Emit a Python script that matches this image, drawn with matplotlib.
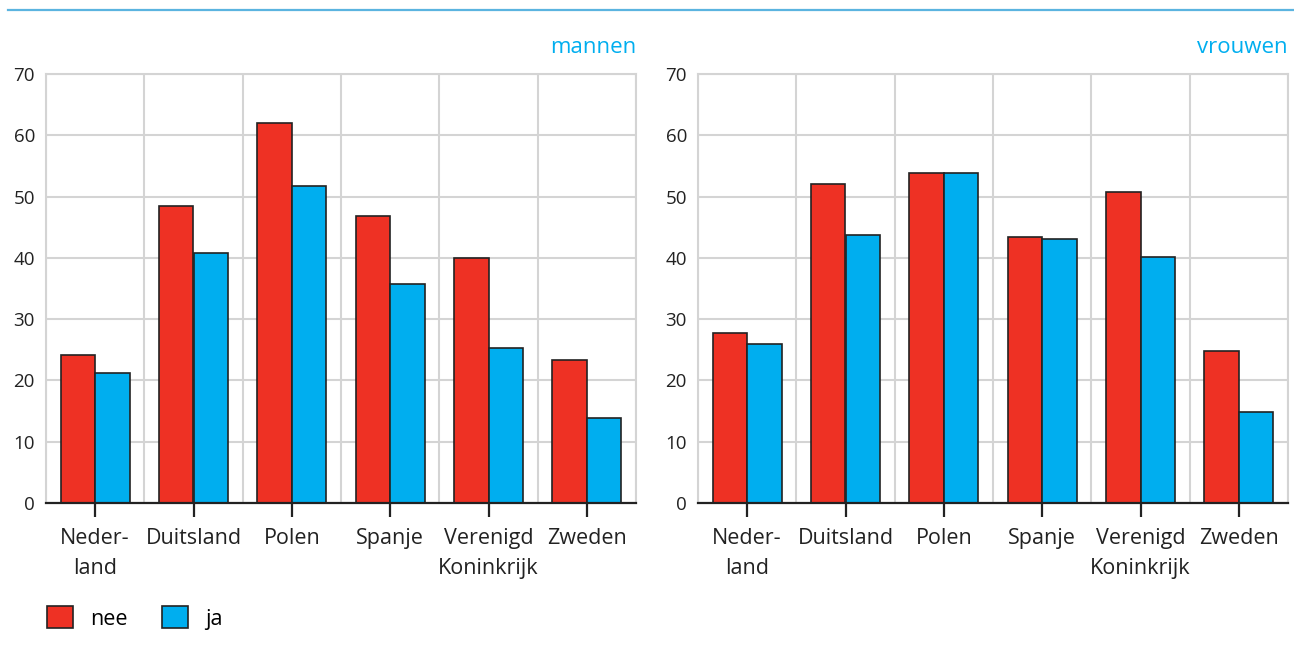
import numpy as np
import matplotlib
matplotlib.use('Agg')
import matplotlib.pyplot as plt
from matplotlib.patches import Patch

plt.rcParams['font.family'] = ['Open Sans', 'DejaVu Sans']

landen = ['Neder-\nland', 'Duitsland', 'Polen', 'Spanje', 'Verenigd\nKoninkrijk', 'Zweden']
mannen_nee = [24.2, 48.5, 62.0, 46.9, 40.0, 23.4]
mannen_ja = [21.2, 40.8, 51.7, 35.8, 25.3, 13.9]
vrouwen_nee = [27.8, 52.1, 53.9, 43.4, 50.8, 24.8]
vrouwen_ja = [26.0, 43.8, 53.8, 43.1, 40.2, 14.8]

RED = '#ee3124'
BLUE = '#00aeef'
GRID = '#d4d4d4'
DARK = '#222222'

fig = plt.figure(figsize=(12.94, 6.57), dpi=100)

# top blue rule
fig.add_artist(plt.Line2D([8 / 1294, 1.0], [1 - 10 / 657] * 2, color='#5bb4e0', lw=1.6))


def draw_panel(rect, nee, ja, title):
  ax = fig.add_axes(rect)
  x = np.arange(len(landen))
  w = 0.35
  ax.bar(x - w / 2, nee, w, color=RED, edgecolor=DARK, linewidth=1.2, zorder=3)
  ax.bar(x + w / 2, ja, w, color=BLUE, edgecolor=DARK, linewidth=1.2, zorder=3)
  ax.set_xlim(-0.5, len(landen) - 0.5)
  ax.set_ylim(0, 70)
  ax.set_yticks(range(0, 71, 10))
  ax.set_xticks(x)
  ax.set_xticklabels(landen, fontsize=15.5, color='#222222', linespacing=1.55)
  ax.set_xticks(np.arange(-0.5, len(landen)), minor=True)
  ax.grid(True, which='minor', axis='x', color=GRID, lw=1.5, zorder=0)
  ax.grid(True, which='major', axis='y', color=GRID, lw=1.5, zorder=0)
  ax.tick_params(axis='x', which='major', length=10, width=1.6, color=DARK, pad=8)
  ax.tick_params(axis='x', which='minor', length=0)
  ax.tick_params(axis='y', length=0, labelsize=13.5, colors='#222222', pad=8)
  for s in ['left', 'right', 'top']:
    ax.spines[s].set_color(GRID)
    ax.spines[s].set_linewidth(1.5)
  ax.spines['bottom'].set_color(DARK)
  ax.spines['bottom'].set_linewidth(1.6)
  ax.spines['bottom'].set_zorder(4)
  ax.set_title(title, loc='right', color=BLUE, fontsize=16, pad=15)
  return ax


bottom = (657 - 503) / 657
height = (503 - 74) / 657
draw_panel([46 / 1294, bottom, 590 / 1294, height], mannen_nee, mannen_ja, 'mannen')
draw_panel([698 / 1294, bottom, 590 / 1294, height], vrouwen_nee, vrouwen_ja, 'vrouwen')

handles = [Patch(facecolor=RED, edgecolor=DARK, linewidth=1.2, label='nee'),
           Patch(facecolor=BLUE, edgecolor=DARK, linewidth=1.2, label='ja')]
fig.legend(handles=handles, loc='center left', bbox_to_anchor=(28 / 1294, 1 - 618 / 657),
           ncol=2, frameon=False, fontsize=15.5, handlelength=1.2, handleheight=1.2,
           handletextpad=0.8, columnspacing=1.6)

fig.savefig('out.png', dpi=100)
